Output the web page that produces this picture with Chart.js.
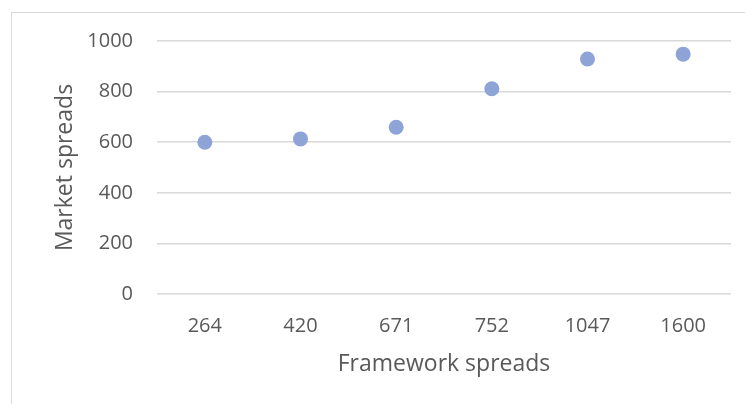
<!DOCTYPE html>
<html>
<head>
<meta charset="utf-8">
<script src="https://cdn.jsdelivr.net/npm/chart.js@4"></script>
<style>
html,body{margin:0;padding:0;background:#fff;}
#wrap{position:absolute;left:0;top:0;width:745px;height:404px;}
</style>
</head>
<body>
<div id="wrap"><canvas id="c" width="745" height="404"></canvas></div>
<script>
const categories = ['264', '420', '671', '752', '1047', '1600'];
const marketSpreads = [600, 613, 659, 811, 929, 948];
const yTicks = [0, 200, 400, 600, 800, 1000];

const frame = {
  id: 'frame',
  beforeDraw(chart) {
    const ctx = chart.ctx;
    ctx.save();
    ctx.strokeStyle = '#d9d9d9';
    ctx.lineWidth = 1;
    ctx.strokeRect(11.5, 12.5, 745, 404);
    ctx.restore();
  }
};

new Chart(document.getElementById('c'), {
  type: 'line',
  data: {
    labels: categories,
    datasets: [{
      label: 'Market spreads',
      data: marketSpreads,
      showLine: false,
      pointRadius: 7.5,
      pointHoverRadius: 7.5,
      pointBackgroundColor: '#8fa4d6',
      pointBorderColor: '#8fa4d6',
      pointBorderWidth: 0
    }]
  },
  options: {
    responsive: false,
    animation: false,
    events: [],
    layout: { padding: { left: 0, top: 41, right: 14, bottom: 0 } },
    plugins: { legend: { display: false }, tooltip: { enabled: false } },
    scales: {
      x: {
        type: 'category',
        offset: true,
        grid: { display: false, drawTicks: false },
        border: { display: false },
        ticks: { color: '#595959', font: { family: 'Open Sans', size: 20 }, padding: 20, maxRotation: 0 },
        title: { display: true, text: 'Framework spreads', color: '#595959', font: { family: 'Open Sans', size: 23 }, padding: { top: 0, bottom: 26 } },
        afterFit(s) { s.height = 110; }
      },
      y: {
        min: 0, max: 1000,
        afterBuildTicks(s) { s.ticks = yTicks.map(v => ({ value: v })); },
        grid: { color: '#d9d9d9', lineWidth: 1.5, drawTicks: false },
        border: { display: false },
        ticks: { color: '#595959', font: { family: 'Open Sans', size: 20 }, padding: 24, callback: v => String(v) },
        title: { display: true, text: 'Market spreads', color: '#595959', font: { family: 'Open Sans', size: 23 }, padding: { top: 52, bottom: 0 } },
        afterFit(s) { s.width = 157; }
      }
    }
  },
  plugins: [frame]
});
</script>
</body>
</html>
